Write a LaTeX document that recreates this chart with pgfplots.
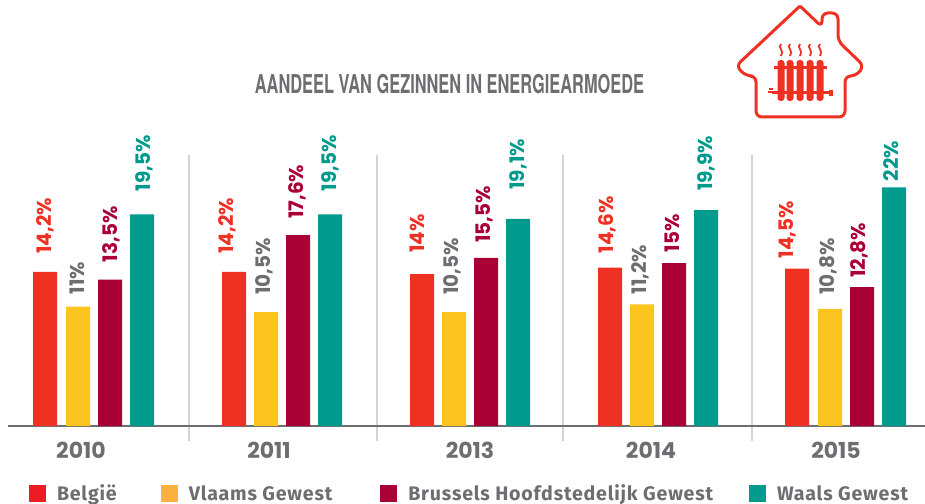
\documentclass[border=0pt]{standalone}
\usepackage{pgfplots}
\pgfplotsset{compat=1.18}
\usepackage{fontspec}
\setmainfont{Poppins}
\newfontfamily\lab{Poppins}
\newfontfamily\legfont[LetterSpace=4]{Fira Sans}
\newfontfamily\titlefont[FakeStretch=0.63]{TeX Gyre Heros}
\definecolor{cB}{HTML}{EF3124}
\definecolor{cV}{HTML}{FDC41F}
\definecolor{cH}{HTML}{A90035}
\definecolor{cW}{HTML}{009B8D}
\definecolor{cG}{HTML}{6D6E71}
\definecolor{cS}{HTML}{D1D3D4}
\definecolor{lB}{HTML}{ED1C24}
\definecolor{lV}{HTML}{FBB040}
\pgfplotsset{swatch/.style={legend image code/.code={\fill[#1] (0pt,-8.5pt) rectangle (17pt,8.5pt);}},
 barstyle/.style 2 args={ybar, bar shift=0pt, bar width=24pt, draw=none, fill=#1,
  nodes near coords={\pgfplotspointmeta\%}, point meta=explicit symbolic,
  visualization depends on={\thisrow{gap} \as \gap},
  visualization depends on={\thisrow{dx} \as \dx},
  every node near coord/.append style={xshift=\dx pt+7.2pt, yshift=\gap pt, rotate=90, anchor=base west, inner sep=0pt, font=\lab\bfseries\fontsize{20}{20}\selectfont, text=#2}}}
\begin{document}
\begin{tikzpicture}[x=1pt,y=1pt]
\useasboundingbox (0,0) rectangle (925,503);
\begin{scope}[shift={(0,503)},y=-1pt]
\foreach \x in {189,377,563,752} \draw[cS,line width=1.6pt] (\x,155) -- (\x,441);
\end{scope}
\begin{axis}[at={(8pt,77pt)},anchor=origin,scale only axis,width=917pt,height=296pt,
  xmin=8,xmax=925,ymin=0,ymax=27.28,clip=false,
  axis y line=none,axis x line=bottom,
  axis line style={cG,line width=2pt,-},
  xtick={81,269,470,651,836},xticklabels={2010,2011,2013,2014,2015},
  major tick length=0pt,
  tick label style={font=\lab\fontsize{22}{22}\selectfont\bfseries,text=cG,yshift=-13pt},
  title={\titlefont\bfseries\fontsize{26}{26}\selectfont AANDEEL VAN GEZINNEN IN ENERGIEARMOEDE},
  title style={at={(axis cs:449.5,31.0)},anchor=center,text=cG,inner sep=0pt},
  legend columns=4,legend cell align=left,
  legend style={at={(axis cs:29,-6.22)},anchor=west,draw=none,fill=none,inner sep=0pt,outer sep=0pt,
    font=\legfont\bfseries\fontsize{19.6}{20}\selectfont,text=cG,
    /tikz/column 1/.style={column sep=9pt},
    /tikz/column 2/.style={column sep=42pt},
    /tikz/column 3/.style={column sep=9pt},
    /tikz/column 4/.style={column sep=46pt},
    /tikz/column 5/.style={column sep=9pt},
    /tikz/column 6/.style={column sep=34pt},
    /tikz/column 7/.style={column sep=9pt}},
]
\addplot[barstyle={cB}{cB},swatch=lB] table[meta=label] {
x y label gap dx
45 14.2 14,2 18 -1
234 14.2 14,2 18 -8
422 14 14 21 -5
610 14.6 14,6 14 -4
797 14.5 14,5 10 -11
};
\addplot[barstyle={cV}{cG},swatch=lV] table[meta=label] {
x y label gap dx
78 11 11 12 -1
266 10.5 10,5 17 -3
454 10.5 10,5 17 -3
642 11.2 11,2 10 -3
830 10.8 10,8 14 -3
};
\addplot[barstyle={cH}{cH},swatch=cH] table[meta=label] {
x y label gap dx
110 13.5 13,5 17 0
298 17.6 17,6 16 -2
486 15.5 15,5 15 -3
674 15 15 11 -2
862 12.8 12,8 9 -4
};
\addplot[barstyle={cW}{cW},swatch=cW] table[meta=label] {
x y label gap dx
142 19.5 19,5 23 1
330 19.5 19,5 23 -1
518 19.1 19,1 29 -1
706 19.9 19,9 19 -1
894 22 22 6 -3
};
\legend{België,Vlaams Gewest,Brussels Hoofdstedelijk Gewest,Waals Gewest}
\end{axis}
\begin{scope}[shift={(0,503)},y=-1pt]
% house icon
\draw[cB,line width=3pt,line join=round,rounded corners=6pt]
 (800,6) -- (822,27) -- (822,13) -- (838,13) -- (838,41) -- (864,66) -- (856,76) -- (845,76)
 -- (845,117) -- (756,117) -- (756,76) -- (746,76) -- (736,66) -- (800,6);
\foreach \x in {781,790,800,810,820}{
 \fill[cB,rounded corners=3pt] (\x-3.5,60) rectangle (\x+3.5,101);
 \draw[cB,line width=1.8pt] (\x,44) .. controls (\x-4,47) and (\x+4,51) .. (\x,56);
}
\draw[cB,line width=3pt] (774,68) -- (827,68);
\draw[cB,line width=3pt] (772,93) -- (832,93);
\fill[cB] (829,90) rectangle (833,96);
\draw[cB,line width=1.5pt] (768,92) -- (775,92) (769,89) -- (773,89);
\end{scope}
\end{tikzpicture}
\end{document}
